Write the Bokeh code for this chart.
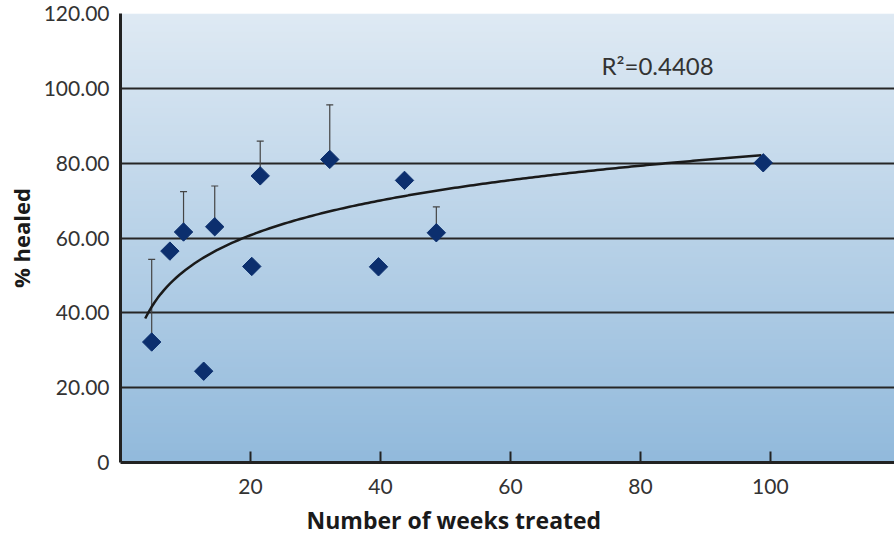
import numpy as np
from bokeh.plotting import figure
from bokeh.models import ColumnDataSource, FixedTicker, Whisker, TeeHead, Range1d, Title
from bokeh.embed import file_html
from bokeh.resources import INLINE

# ---- data ----
weeks = [4.8, 7.6, 9.7, 12.8, 14.5, 20.2, 21.5, 32.2, 39.7, 43.7, 48.6, 98.9]
healed = [32.2, 56.5, 61.6, 24.4, 63.0, 52.4, 76.6, 81.0, 52.3, 75.4, 61.4, 80.1]
err_x = [4.8, 9.7, 14.5, 21.5, 32.2, 48.6]
err_low = [32.2, 61.6, 63.0, 76.6, 81.0, 61.4]
err_high = [54.3, 72.4, 73.9, 85.9, 95.6, 68.3]
y_ticks = [0, 20, 40, 60, 80, 100, 120]
y_tick_labels = ["0", "20.00", "40.00", "60.00", "80.00", "100.00", "120.00"]
x_ticks = [20, 40, 60, 80, 100]
# logarithmic trendline y = a*ln(x) + b, coefficients
trend_a = 13.4
trend_b = 20.6
trend_span = [3.8, 98.6]
r2_label = "R\u00b2=0.4408"
x_title = "Number of weeks treated"
y_title = "% healed"

tx = np.linspace(trend_span[0], trend_span[1], 200)
ty = trend_a * np.log(tx) + trend_b

p = figure(width=894, height=542, output_backend="svg", toolbar_location=None,
           x_range=Range1d(0, 119.1), y_range=Range1d(0, 120),
           min_border_left=120, min_border_right=0, min_border_top=13, min_border_bottom=80)
p.outline_line_color = None
p.background_fill_color = "white"
p.border_fill_color = "white"

# vertical gradient background of the plot area
n = 256
top = np.array([0xdf, 0xea, 0xf4])
bot = np.array([0x92, 0xba, 0xdc])
t = np.linspace(0, 1, n)[:, None]
cols = (bot * (1 - t) + top * t).astype(np.uint32)
img = np.empty((n, 1), dtype=np.uint32)
view = img.view(dtype=np.uint8).reshape((n, 1, 4))
view[:, 0, 0] = cols[:, 0]
view[:, 0, 1] = cols[:, 1]
view[:, 0, 2] = cols[:, 2]
view[:, 0, 3] = 255
p.image_rgba(image=[img], x=0, y=0, dw=119.1, dh=120, level="image")

# grid
p.xgrid.grid_line_color = None
p.ygrid.grid_line_color = "#262626"
p.ygrid.grid_line_width = 2
p.ygrid.ticker = FixedTicker(ticks=y_ticks)

# axes
p.yaxis.ticker = FixedTicker(ticks=y_ticks)
p.yaxis.major_label_overrides = {v: s for v, s in zip(y_ticks, y_tick_labels)}
p.xaxis.ticker = FixedTicker(ticks=x_ticks)
for ax in (p.xaxis[0], p.yaxis[0]):
    ax.axis_line_color = "#222222"
    ax.axis_line_width = 3
    ax.minor_tick_line_color = None
    ax.major_label_text_font = "Lato"
    ax.major_label_text_font_size = "21px"
    ax.major_label_text_color = "#333333"
    ax.axis_label_text_font = "Open Sans"
    ax.axis_label_text_font_style = "bold"
    ax.axis_label_text_font_size = "22px"
    ax.axis_label_text_color = "#1a1a1a"
p.yaxis.major_tick_line_color = None
p.yaxis.major_tick_out = 0
p.yaxis.major_label_standoff = 11
p.yaxis.axis_label = y_title
p.yaxis.axis_label_standoff = 5
p.xaxis.major_tick_in = 11
p.xaxis.major_tick_out = 0
p.xaxis.major_tick_line_width = 2
p.xaxis.major_tick_line_color = "#222222"
p.xaxis.major_label_standoff = 16

# x-axis title, placed left of centre as in the reference
p.add_layout(Title(text=x_title, align="left", offset=186, standoff=11,
                   text_font="Open Sans", text_font_style="bold", text_font_size="23px",
                   text_color="#1a1a1a"), "below")

# trendline
p.line(tx, ty, line_color="#1a1a1a", line_width=2.5)

# error bars (upper only)
esrc = ColumnDataSource(dict(x=err_x, lo=err_low, hi=err_high))
w = Whisker(source=esrc, base="x", lower="lo", upper="hi", line_color="#444444", line_width=1.2,
            upper_head=TeeHead(size=7, line_color="#444444", line_width=1.2), lower_head=None)
p.add_layout(w)

# points
src = ColumnDataSource(dict(x=weeks, y=healed))
p.scatter("x", "y", source=src, marker="square", size=13, angle=np.pi / 4,
          fill_color="#0c2f6e", line_color="#0c2f6e")

# R^2 label
p.text(x=[74], y=[106.2], text=[r2_label], text_font={"value": "Lato"}, text_font_size="24px",
       text_color="#333333", text_baseline="middle", text_align="left")

open("out.html", "w").write(file_html(p, INLINE))
